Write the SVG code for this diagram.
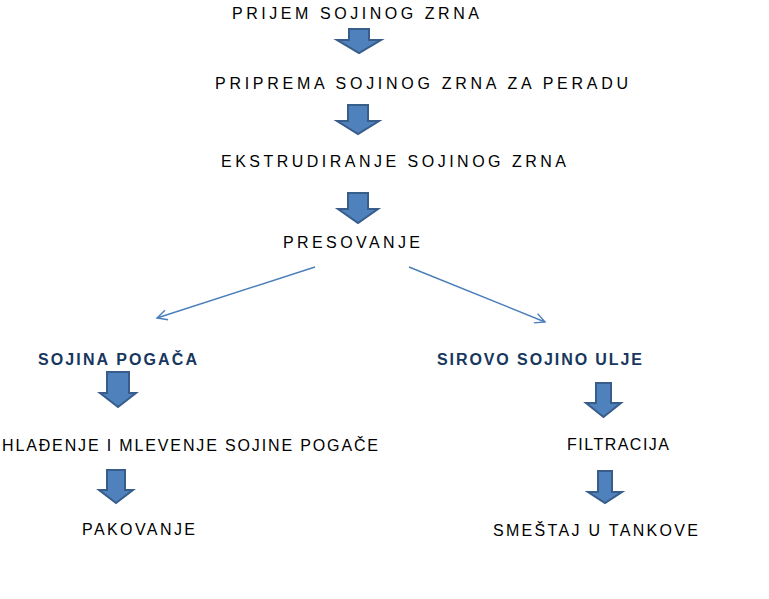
<svg xmlns="http://www.w3.org/2000/svg" width="769" height="599" viewBox="0 0 769 599">
<style>
.t{font-family:"Liberation Sans",Arial,sans-serif;font-size:16px;fill:#000}
.b{font-family:"Liberation Sans",Arial,sans-serif;font-size:16px;font-weight:bold;fill:#17375E}
.blk{fill:#4F81BD;stroke:#385D8A;stroke-width:2;stroke-linejoin:miter}
.ln{stroke:#4A7EBB;stroke-width:1.4;fill:none}
</style>
<defs>
<marker id="open" markerUnits="userSpaceOnUse" markerWidth="14" markerHeight="14" refX="11" refY="6" orient="auto">
<path d="M1,1 L11,6 L1,11" fill="none" stroke="#4A7EBB" stroke-width="1.4"/>
</marker>
</defs>
<rect width="769" height="599" fill="#fff"/>
<g id="n1"><text class="t" x="232" y="19" textLength="247" lengthAdjust="spacing">PRIJEM SOJINOG ZRNA</text></g>
<g id="n2"><text class="t" x="215" y="89" textLength="413" lengthAdjust="spacing">PRIPREMA SOJINOG ZRNA ZA PERADU</text></g>
<g id="n3"><text class="t" x="221" y="167" textLength="345" lengthAdjust="spacing">EKSTRUDIRANJE SOJINOG ZRNA</text></g>
<g id="n4"><text class="t" x="283" y="248" textLength="137" lengthAdjust="spacing">PRESOVANJE</text></g>
<g id="n5"><text class="b" x="38" y="365" textLength="159" lengthAdjust="spacing">SOJINA POGAČA</text></g>
<g id="n6"><text class="b" x="437" y="365" textLength="205" lengthAdjust="spacing">SIROVO SOJINO ULJE</text></g>
<g id="n7"><text class="t" x="2" y="451" textLength="376" lengthAdjust="spacing">HLAĐENJE I MLEVENJE SOJINE POGAČE</text></g>
<g id="n8"><text class="t" x="82" y="535" textLength="113" lengthAdjust="spacing">PAKOVANJE</text></g>
<g id="n9"><text class="t" x="567" y="450" textLength="102" lengthAdjust="spacing">FILTRACIJA</text></g>
<g id="n10"><text class="t" x="493" y="536" textLength="205" lengthAdjust="spacing">SMEŠTAJ U TANKOVE</text></g>
<g id="connectors">
<path class="blk" d="M349,29 H369 V40 H381 L359,53 L337,40 H349 Z"/>
<path class="blk" d="M348,105 H368 V121 H379 L358,134 L337,121 H348 Z"/>
<path class="blk" d="M348,193 H368 V209 H378 L358,223 L338,209 H348 Z"/>
<path class="blk" d="M107,372 H129 V393 H136 L118,407 L100,393 H107 Z"/>
<path class="blk" d="M107,470 H125 V490 H133 L116,503 L99,490 H107 Z"/>
<path class="blk" d="M596,383 H611 V403 H621 L603.5,417 L586,403 H596 Z"/>
<path class="blk" d="M598,471 H612 V492 H622 L605,503 L588,492 H598 Z"/>
<line class="ln" x1="315" y1="267" x2="157" y2="318" marker-end="url(#open)"/>
<line class="ln" x1="409" y1="267" x2="545" y2="322" marker-end="url(#open)"/>
</g>
</svg>
